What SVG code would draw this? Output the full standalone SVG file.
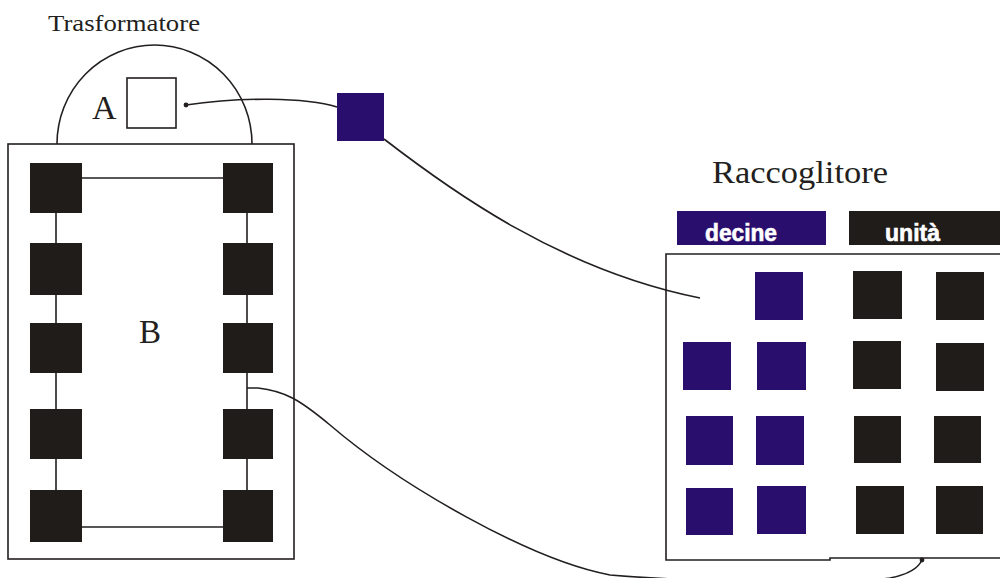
<svg xmlns="http://www.w3.org/2000/svg" width="1000" height="578" viewBox="0 0 1000 578">
<style>
.ln{fill:none;stroke:#231f20;stroke-width:1.6}
.blk{fill:#201c19}
.blu{fill:#2a0e6e}
.serif{font-family:"Liberation Serif","Times New Roman",serif;fill:#231f20}
.lbl{font-family:"Liberation Sans Narrow","Liberation Sans",Arial,sans-serif;font-weight:bold;fill:#ffffff;stroke:#ffffff;stroke-width:0.6}
</style>
<defs>
<marker id="dot" viewBox="0 0 6 6" refX="3" refY="3" markerWidth="6" markerHeight="6" markerUnits="userSpaceOnUse"><circle cx="3" cy="3" r="2.4" fill="#231f20"/></marker>
</defs>
<rect width="1000" height="578" fill="#ffffff"/>

<g id="trasformatore">
<text class="serif" x="48" y="31" font-size="24" textLength="152" lengthAdjust="spacingAndGlyphs">Trasformatore</text>
<path class="ln" d="M57,144 A97.5,99 0 0 1 252,144"/>
<rect class="ln" x="8" y="144" width="286" height="415"/>
</g>

<g id="nodeA">
<rect class="ln" x="127" y="78" width="49" height="50"/>
<text class="serif" x="92" y="119" font-size="34">A</text>
</g>

<g id="nodeB">
<text class="serif" x="139" y="343" font-size="33">B</text>
</g>

<g id="chain">
<path class="ln" d="M56,188 V515 M247,188 V515 M56,178 H247 M56,527 H247"/>
<rect class="blk" x="30" y="163" width="52" height="50"/>
<rect class="blk" x="30" y="243" width="52" height="52"/>
<rect class="blk" x="30" y="323" width="52" height="50"/>
<rect class="blk" x="30" y="409" width="52" height="50"/>
<rect class="blk" x="30" y="490" width="52" height="52"/>
<rect class="blk" x="223" y="163" width="50" height="50"/>
<rect class="blk" x="223" y="243" width="50" height="52"/>
<rect class="blk" x="223" y="323" width="50" height="50"/>
<rect class="blk" x="223" y="409" width="50" height="50"/>
<rect class="blk" x="223" y="490" width="50" height="52"/>
</g>

<g id="sensor">
<rect class="blu" x="337" y="93" width="47" height="48"/>
</g>

<g id="raccoglitore">
<text class="serif" x="712" y="183" font-size="31" textLength="176" lengthAdjust="spacingAndGlyphs">Raccoglitore</text>
<rect class="blu" x="677" y="211" width="149" height="34"/>
<text class="lbl" x="705" y="241" font-size="24" textLength="72" lengthAdjust="spacingAndGlyphs">decine</text>
<rect class="blk" x="849" y="211" width="151" height="34"/>
<text class="lbl" x="885" y="241" font-size="24" textLength="55" lengthAdjust="spacingAndGlyphs">unità</text>
<path class="ln" d="M1002,254 H666 V560 H830 V558 H1002"/>
<rect class="blu" x="755" y="272" width="48" height="48"/>
<rect class="blk" x="853" y="271" width="49" height="48"/>
<rect class="blk" x="936" y="272" width="48" height="48"/>
<rect class="blu" x="683" y="342" width="48" height="48"/>
<rect class="blu" x="757" y="342" width="49" height="48"/>
<rect class="blk" x="853" y="341" width="48" height="48"/>
<rect class="blk" x="936" y="343" width="48" height="48"/>
<rect class="blu" x="686" y="416" width="47" height="49"/>
<rect class="blu" x="756" y="416" width="48" height="49"/>
<rect class="blk" x="854" y="416" width="47" height="47"/>
<rect class="blk" x="934" y="416" width="47" height="47"/>
<rect class="blu" x="686" y="488" width="47" height="47"/>
<rect class="blu" x="757" y="486" width="49" height="48"/>
<rect class="blk" x="856" y="486" width="48" height="48"/>
<rect class="blk" x="936" y="486" width="47" height="48"/>
</g>

<g id="connectors">
<path class="ln" marker-end="url(#dot)" d="M337,107 C305,97 240,97 186,105"/>
<path class="ln" d="M384,139 C450,190 560,270 700,298"/>
<path class="ln" marker-end="url(#dot)" d="M247,388 H258 C285,391 300,400 330,425 C400,485 530,560 610,575 Q640,577.5 672,579 L690,581 H870 L890,578 Q916,573 922,560"/>
</g>
</svg>
